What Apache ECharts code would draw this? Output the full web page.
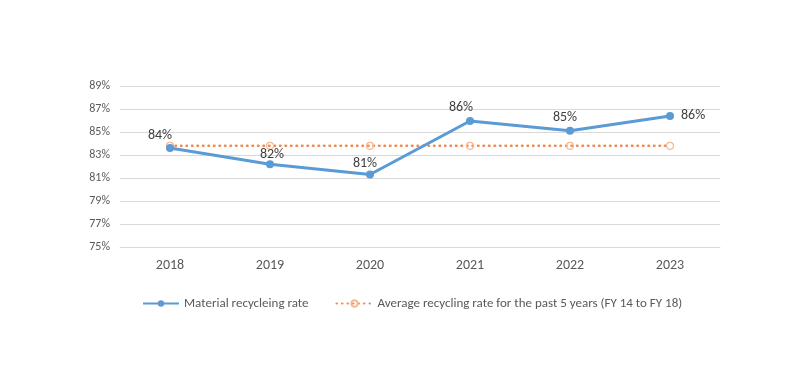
<!DOCTYPE html>
<html><head><meta charset="utf-8">
<script src="https://cdn.jsdelivr.net/npm/echarts@6/dist/echarts.min.js"></script>
<style>html,body{margin:0;padding:0;background:#fff}#c{width:800px;height:388px}</style>
</head><body><div id="c"></div>
<script>
const categories = ['2018','2019','2020','2021','2022','2023'];
const recyclingRate = [83.6, 82.2, 81.3, 85.96, 85.1, 86.4];
const averageRate = [83.8, 83.8, 83.8, 83.8, 83.8, 83.8];
const seriesNames = ['Material recycleing rate', 'Average recycling rate for the past 5 years (FY 14 to FY 18)'];

// label placement tweaks (styling only)
const labelNudge = [[-10,1],[2,4],[-5,3],[-9,1],[-5,1],[-3,0]];

const chart = echarts.init(document.getElementById('c'), null, {renderer:'canvas'});
const font = 'Calibri, Carlito, "Liberation Sans", sans-serif';
const lastIdx = categories.length - 1;
chart.setOption({
  animation:false,
  textStyle:{fontFamily:font},
  grid:{left:120,right:80,top:86,bottom:141,containLabel:false},
  legend:{
    data:seriesNames, top:292, left:137, itemGap:27, itemWidth:36, itemHeight:8,
    textStyle:{color:'#595959',fontSize:13,fontFamily:font}
  },
  xAxis:{
    type:'category', data:categories, boundaryGap:true,
    axisLine:{show:true,lineStyle:{color:'#d9d9d9'}}, axisTick:{show:false},
    axisLabel:{color:'#595959',fontSize:14,margin:11,fontFamily:font}
  },
  yAxis:{
    type:'value', min:75, max:89, interval:2,
    axisLine:{show:false}, axisTick:{show:false},
    splitLine:{lineStyle:{color:'#d9d9d9',width:1}},
    axisLabel:{color:'#595959',fontSize:12,margin:10,formatter:v=>v+'%',fontFamily:font}
  },
  series:[
    {
      name:seriesNames[0], type:'line', z:3,
      data:recyclingRate.map((v,i)=> ({
        value:v,
        label: i===lastIdx ? {position:'right',distance:10,offset:labelNudge[i]} : {offset:labelNudge[i]}
      })),
      symbol:'circle', symbolSize:8,
      lineStyle:{color:'#5B9BD5',width:3},
      itemStyle:{color:'#5B9BD5'},
      label:{show:true,position:'top',distance:3,color:'#404040',fontSize:14,fontFamily:font,
        formatter:p=>Math.round(p.value)+'%'}
    },
    {
      name:seriesNames[1], type:'line', data:averageRate, z:2,
      symbol:'circle', symbolSize:7,
      lineStyle:{color:'#F08A4B',width:2.5,type:[0.5,5],cap:'round'},
      itemStyle:{color:'rgba(255,255,255,0)',borderColor:'#F6B891',borderWidth:1.2}
    }
  ]
});
</script>
</body></html>
